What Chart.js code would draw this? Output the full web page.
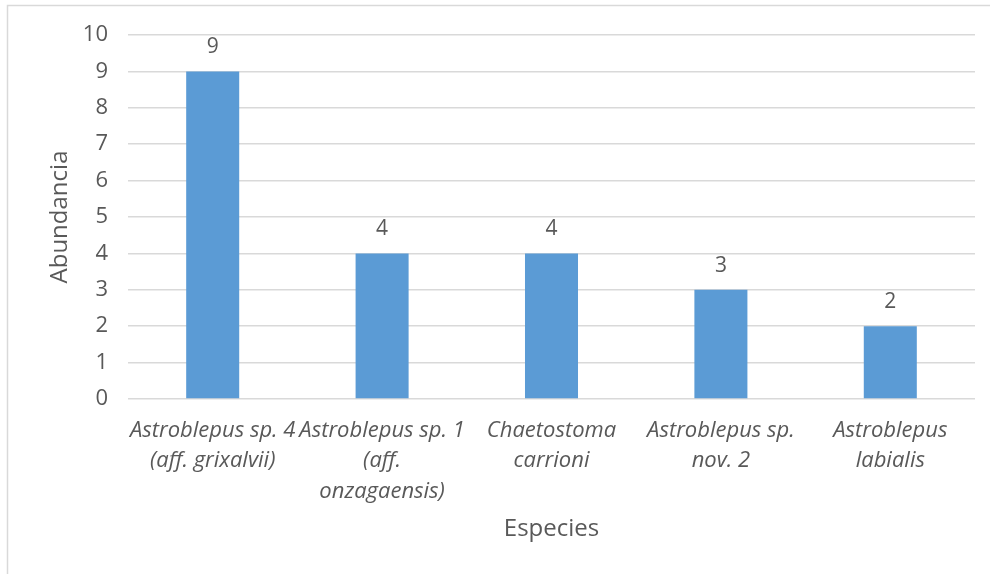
<!DOCTYPE html>
<html>
<head>
<meta charset="utf-8">
<script src="https://cdn.jsdelivr.net/npm/chart.js@4.4.0/dist/chart.umd.min.js"></script>
<style>
  html, body { margin: 0; padding: 0; background: #fff; }
  #wrap { width: 990px; height: 574px; position: relative; }
</style>
</head>
<body>
<div id="wrap"><canvas id="myChart" width="990" height="574"></canvas></div>
<script>
const species = [
    ['Astroblepus sp. 4', '(aff. grixalvii)'],
    ['Astroblepus sp. 1', '(aff.', 'onzagaensis)'],
    ['Chaetostoma', 'carrioni'],
    ['Astroblepus sp.', 'nov. 2'],
    ['Astroblepus', 'labialis']
]
const abundance = [9, 4, 4, 3, 2]
const yTicks = [0, 1, 2, 3, 4, 5, 6, 7, 8, 9, 10]

const TEXT = '#595959'
const FONT = "'Open Sans', 'Liberation Sans', sans-serif"

Chart.defaults.color = TEXT
Chart.defaults.font.family = FONT

// outer frame like the office chart area
const framePlugin = {
    id: 'frame',
    beforeDraw(chart) {
        const c = chart.ctx
        c.save()
        c.strokeStyle = '#d9d9d9'
        c.lineWidth = 1.5
        c.strokeRect(7.5, 5.5, 1000, 1000)
        c.restore()
    }
}

const valueLabels = {
    id: 'valueLabels',
    afterDatasetsDraw(chart) {
        const c = chart.ctx
        const meta = chart.getDatasetMeta(0)
        c.save()
        c.font = '21px ' + FONT
        c.fillStyle = TEXT
        c.textAlign = 'center'
        c.textBaseline = 'middle'
        meta.data.forEach((bar, i) => {
            c.fillText(String(abundance[i]), bar.x, bar.y - 24)
        })
        c.restore()
    }
}

const ctx = document.getElementById('myChart')

new Chart(ctx, {
    type: 'bar',
    data: {
        labels: species,
        datasets: [{
            label: 'Abundancia',
            data: abundance,
            backgroundColor: '#5b9bd5',
            borderWidth: 0,
            categoryPercentage: 1,
            barPercentage: 0.313
        }]
    },
    options: {
        responsive: false,
        animation: false,
        layout: { padding: { top: 35, right: 15, left: 0, bottom: 0 } },
        plugins: {
            legend: { display: false },
            tooltip: { enabled: false }
        },
        scales: {
            x: {
                grid: { display: false, drawTicks: false },
                border: { display: false },
                ticks: {
                    maxRotation: 0,
                    autoSkip: false,
                    padding: 17,
                    font: { size: 22, style: 'italic', lineHeight: 1.37 }
                },
                title: {
                    display: true,
                    text: 'Especies',
                    font: { size: 24 },
                    padding: { top: 0, bottom: 30 }
                },
                afterFit: (scale) => { scale.height = 175 }
            },
            y: {
                min: 0,
                max: 10,
                afterBuildTicks: (scale) => { scale.ticks = yTicks.map(v => ({ value: v })) },
                grid: { color: '#d9d9d9', lineWidth: 1.5, drawTicks: false },
                border: { display: false },
                ticks: { padding: 20, font: { size: 22 } },
                title: {
                    display: true,
                    text: 'Abundancia',
                    font: { size: 24 },
                    padding: { top: 46, bottom: 0 }
                },
                afterFit: (scale) => { scale.width = 128 }
            }
        }
    },
    plugins: [framePlugin, valueLabels]
})
</script>
</body>
</html>
